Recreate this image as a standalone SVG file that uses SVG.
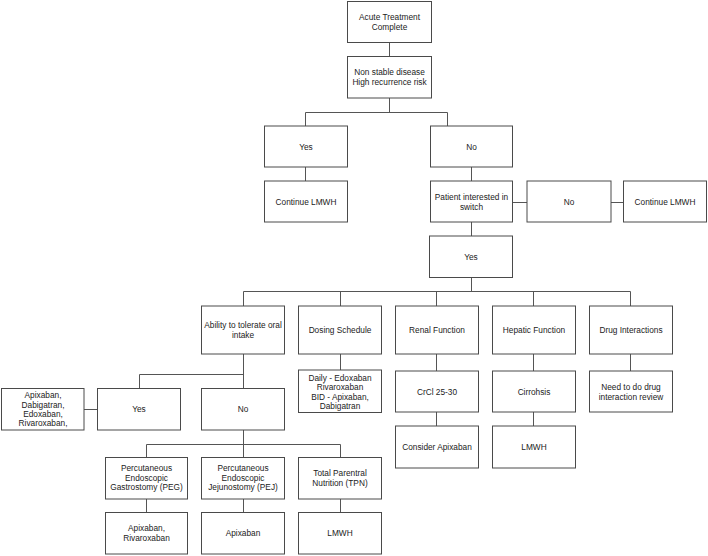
<svg xmlns="http://www.w3.org/2000/svg" width="708" height="556" viewBox="0 0 708 556">
<style>
rect.b{fill:#fff;stroke:#4a4a4a;stroke-width:1}
#connectors path{fill:none;stroke:#555;stroke-width:1}
text{font-family:"Liberation Sans",Arial,Helvetica,sans-serif;font-size:8.3px;fill:#222;text-anchor:middle}
</style>
<rect width="708" height="556" fill="#fff"/>
<g id="connectors">
<path d="M389.5 42V56"/>
<path d="M389.5 98V112.5M305.5 112.5H447.5M305.5 112.5V126M447.5 112.5V126"/>
<path d="M305.5 167V181"/>
<path d="M471.5 167V181"/>
<path d="M512 202.5H527M611 202.5H623"/>
<path d="M471.5 222V236"/>
<path d="M471.5 277.5V291.5M243.5 291.5H630.5M243.5 291.5V306M340.5 291.5V306M436.5 291.5V306M533.5 291.5V306M630.5 291.5V306"/>
<path d="M340.5 354V370"/>
<path d="M436.5 354V371M436.5 412V426"/>
<path d="M533.5 354V371M533.5 412V426"/>
<path d="M630.5 354V371"/>
<path d="M243.5 354V388M139.5 374.5H243.5M139.5 374.5V388"/>
<path d="M84 409.5H97"/>
<path d="M243.5 430V444.5M146.5 444.5H340.5M146.5 444.5V457M243.5 444.5V457M340.5 444.5V457"/>
<path d="M146.5 499V512.5M243.5 499V512.5M340.5 499V512.5"/>
</g>
<g id="acute"><rect class="b" x="347.5" y="1.5" width="84" height="41"/><text x="389.5" y="20">Acute Treatment</text><text x="389.5" y="29.5">Complete</text></g>
<g id="nonstable"><rect class="b" x="347.5" y="56.5" width="84" height="41.5"/><text x="389.5" y="75">Non stable disease</text><text x="389.5" y="84.5">High recurrence risk</text></g>
<g id="yes1"><rect class="b" x="264.5" y="126" width="83" height="41"/><text x="306" y="149.5">Yes</text></g>
<g id="no1"><rect class="b" x="430.5" y="126" width="82" height="41"/><text x="471.5" y="149.5">No</text></g>
<g id="cont1"><rect class="b" x="264.5" y="181" width="83" height="41"/><text x="306" y="204.5">Continue LMWH</text></g>
<g id="patient"><rect class="b" x="430.5" y="181" width="82" height="41"/><text x="471.5" y="200">Patient interested in</text><text x="471.5" y="209.5">switch</text></g>
<g id="no2"><rect class="b" x="527" y="181" width="84" height="41"/><text x="569" y="204.5">No</text></g>
<g id="cont2"><rect class="b" x="623.5" y="181" width="83" height="41"/><text x="665" y="204.5">Continue LMWH</text></g>
<g id="yes2"><rect class="b" x="429.5" y="236" width="83" height="41.5"/><text x="471" y="259.5">Yes</text></g>
<g id="ability"><rect class="b" x="201.5" y="306" width="83" height="48"/><text x="243" y="328">Ability to tolerate oral</text><text x="243" y="337.5">intake</text></g>
<g id="dosing"><rect class="b" x="298.5" y="306" width="83" height="48"/><text x="340" y="333">Dosing Schedule</text></g>
<g id="renal"><rect class="b" x="395.5" y="306" width="83" height="48"/><text x="437" y="333">Renal Function</text></g>
<g id="hepatic"><rect class="b" x="492.5" y="306" width="83" height="48"/><text x="534" y="333">Hepatic Function</text></g>
<g id="drug"><rect class="b" x="589.5" y="306" width="83" height="48"/><text x="631" y="333">Drug Interactions</text></g>
<g id="dosingchild"><rect class="b" x="298.5" y="370" width="83" height="42.5"/><text x="340" y="381">Daily - Edoxaban</text><text x="340" y="390.3">Rivaroxaban</text><text x="340" y="399.6">BID - Apixaban,</text><text x="340" y="408.9">Dabigatran</text></g>
<g id="crcl"><rect class="b" x="395.5" y="371" width="83" height="41"/><text x="437" y="394.5">CrCl 25-30</text></g>
<g id="cirrhosis"><rect class="b" x="492.5" y="371" width="83" height="41"/><text x="534" y="394.5">Cirrohsis</text></g>
<g id="drugchild"><rect class="b" x="589.5" y="371" width="83" height="41"/><text x="631" y="390">Need to do drug</text><text x="631" y="399.5">interaction review</text></g>
<g id="apixlist"><rect class="b" x="1.5" y="388.5" width="82.5" height="41.5"/><text x="43" y="398.3">Apixaban,</text><text x="43" y="407.5">Dabigatran,</text><text x="43" y="416.7">Edoxaban,</text><text x="43" y="425.9">Rivaroxaban,</text></g>
<g id="yes3"><rect class="b" x="97.5" y="388.5" width="83" height="41.5"/><text x="139" y="412">Yes</text></g>
<g id="no3"><rect class="b" x="201.5" y="388.5" width="83" height="41.5"/><text x="243" y="412">No</text></g>
<g id="considerapix"><rect class="b" x="395.5" y="426" width="83" height="42"/><text x="437" y="450">Consider Apixaban</text></g>
<g id="lmwh1"><rect class="b" x="492.5" y="426" width="83" height="42"/><text x="534" y="450">LMWH</text></g>
<g id="peg"><rect class="b" x="105.5" y="457.5" width="82" height="41.5"/><text x="146.5" y="471">Percutaneous</text><text x="146.5" y="480.5">Endoscopic</text><text x="146.5" y="490">Gastrostomy (PEG)</text></g>
<g id="pej"><rect class="b" x="201.5" y="457.5" width="83" height="41.5"/><text x="243" y="471">Percutaneous</text><text x="243" y="480.5">Endoscopic</text><text x="243" y="490">Jejunostomy (PEJ)</text></g>
<g id="tpn"><rect class="b" x="298.5" y="457.5" width="83" height="41.5"/><text x="340" y="476">Total Parentral</text><text x="340" y="485.5">Nutrition (TPN)</text></g>
<g id="apixriv"><rect class="b" x="105.5" y="512.5" width="82" height="41.5"/><text x="146.5" y="531">Apixaban,</text><text x="146.5" y="540.5">Rivaroxaban</text></g>
<g id="apix"><rect class="b" x="201.5" y="512.5" width="83" height="41.5"/><text x="243" y="536">Apixaban</text></g>
<g id="lmwh2"><rect class="b" x="298.5" y="512.5" width="83" height="41.5"/><text x="340" y="536">LMWH</text></g>
</svg>
